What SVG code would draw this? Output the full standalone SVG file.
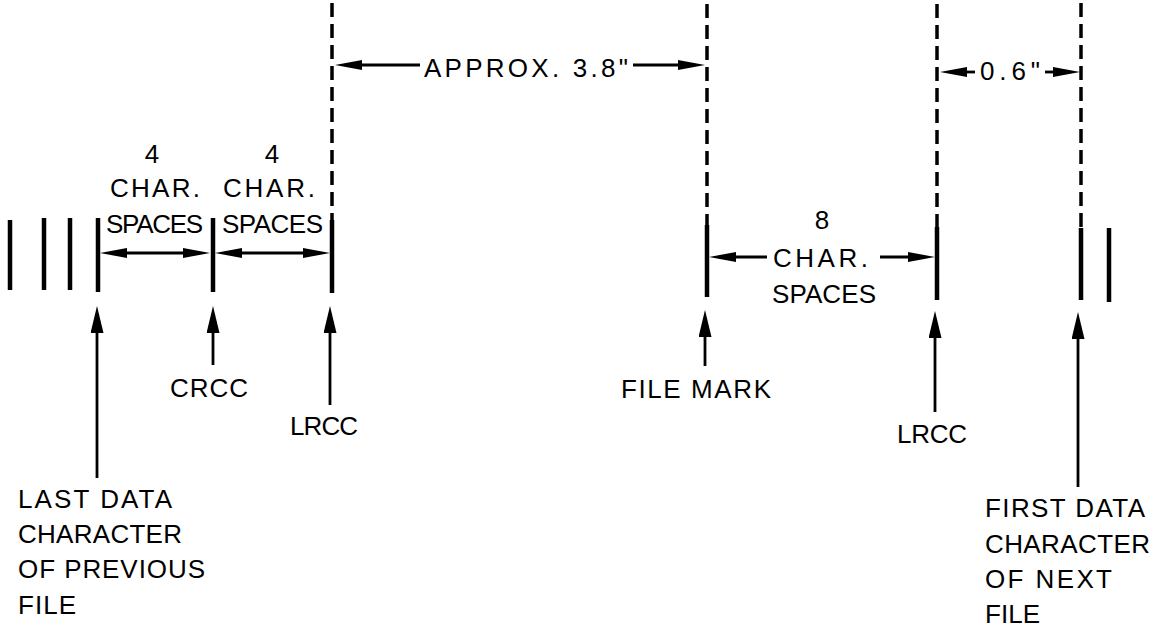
<svg xmlns="http://www.w3.org/2000/svg" width="1159" height="634" viewBox="0 0 1159 634">
<style>
.t{font-family:"Liberation Sans",Arial,sans-serif;font-size:26px;fill:#000}
.c{text-anchor:middle}
.dash{stroke:#000;stroke-width:3.5;stroke-dasharray:14 7;fill:none}
.bar{stroke:#000;stroke-width:4.5;fill:none}
.dim{stroke:#000;stroke-width:2.8;fill:none}
.ha{marker-end:url(#hh)}
.hb{marker-start:url(#hh)}
.va{marker-end:url(#vh)}
</style>
<defs>
<marker id="hh" markerWidth="27" markerHeight="10" refX="17" refY="5" orient="auto-start-reverse" markerUnits="userSpaceOnUse"><path d="M0,0 L27,5 L0,10 Z" fill="#000"/></marker>
<marker id="vh" markerWidth="27" markerHeight="13" refX="17" refY="6.5" orient="auto" markerUnits="userSpaceOnUse"><path d="M0,0 L27,6.5 L0,13 Z" fill="#000"/></marker>
</defs>
<rect width="1159" height="634" fill="#fff"/>

<g id="prev-data">
<line class="bar" x1="10" y1="220" x2="10" y2="290"/>
<line class="bar" x1="44" y1="218" x2="44" y2="290"/>
<line class="bar" x1="70" y1="218" x2="70" y2="290"/>
<line class="bar" x1="98" y1="218" x2="98" y2="292"/>
<text class="t" x="18" y="508" textLength="154">LAST DATA</text>
<text class="t" x="18" y="543" textLength="164">CHARACTER</text>
<text class="t" x="18" y="578" textLength="187">OF PREVIOUS</text>
<text class="t" x="18" y="614" textLength="58">FILE</text>
</g>

<g id="crcc">
<line class="bar" x1="213" y1="218" x2="213" y2="292"/>
<text class="t" x="170" y="397" textLength="78">CRCC</text>
</g>

<g id="lrcc1">
<line class="dash" x1="332" y1="3" x2="332" y2="220"/>
<line class="bar" x1="332" y1="220" x2="332" y2="293"/>
<text class="t" x="290" y="435" textLength="68">LRCC</text>
</g>

<g id="filemark">
<line class="dash" x1="707" y1="4" x2="707" y2="225"/>
<line class="bar" x1="707" y1="225" x2="707" y2="297"/>
<text class="t" x="621" y="398" textLength="150">FILE MARK</text>
</g>

<g id="lrcc2">
<line class="dash" x1="937" y1="4" x2="937" y2="227"/>
<line class="bar" x1="937" y1="227" x2="937" y2="300"/>
<text class="t" x="897" y="443" textLength="70">LRCC</text>
</g>

<g id="next-data">
<line class="dash" x1="1081" y1="3" x2="1081" y2="228"/>
<line class="bar" x1="1081" y1="228" x2="1081" y2="300"/>
<line class="bar" x1="1109" y1="228" x2="1109" y2="302"/>
<text class="t" x="985" y="517" textLength="160">FIRST DATA</text>
<text class="t" x="985" y="553" textLength="165">CHARACTER</text>
<text class="t" x="985" y="588" textLength="127">OF NEXT</text>
<text class="t" x="985" y="623" textLength="55">FILE</text>
</g>

<g id="labels">
<text class="t c" x="152" y="163">4</text>
<text class="t" x="110" y="197" textLength="90">CHAR.</text>
<text class="t" x="106" y="233" textLength="97">SPACES</text>
<text class="t c" x="272" y="163">4</text>
<text class="t" x="223" y="197" textLength="92">CHAR.</text>
<text class="t" x="222" y="233" textLength="101">SPACES</text>
<text class="t" x="424" y="77" textLength="204">APPROX. 3.8"</text>
<text class="t" x="980" y="80" textLength="60">0.6"</text>
<text class="t c" x="822" y="229">8</text>
<text class="t" x="773" y="267" textLength="95">CHAR.</text>
<text class="t" x="772" y="303" textLength="104">SPACES</text>
</g>

<g id="connectors">
<line class="dim hb ha" x1="110" y1="253" x2="200" y2="253"/>
<line class="dim hb ha" x1="225" y1="253" x2="320" y2="253"/>
<line class="dim ha" x1="420" y1="65" x2="345" y2="65"/>
<line class="dim ha" x1="633" y1="65" x2="695" y2="65"/>
<line class="dim ha" x1="975" y1="72" x2="950" y2="72"/>
<line class="dim ha" x1="1045" y1="72" x2="1070" y2="72"/>
<line class="dim ha" x1="767" y1="257" x2="719" y2="257"/>
<line class="dim ha" x1="880" y1="257" x2="925" y2="257"/>
<line class="dim va" x1="97" y1="478" x2="97" y2="316"/>
<line class="dim va" x1="213" y1="365" x2="213" y2="316"/>
<line class="dim va" x1="330" y1="405" x2="330" y2="316"/>
<line class="dim va" x1="705" y1="366" x2="705" y2="320"/>
<line class="dim va" x1="935" y1="412" x2="935" y2="321"/>
<line class="dim va" x1="1078" y1="487" x2="1078" y2="322"/>
</g>
</svg>
